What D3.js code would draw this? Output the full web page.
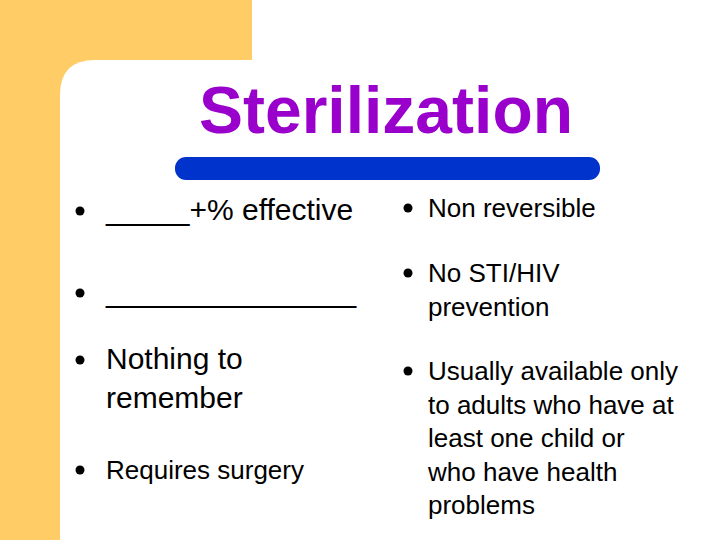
<!DOCTYPE html>
<html><head><meta charset="utf-8">
<script src="https://cdn.jsdelivr.net/npm/d3@7"></script>
<style>body{margin:0;background:#fff}</style></head>
<body><svg id="s" width="720" height="540"></svg>
<script>
const title = "Sterilization";
const leftItems = [
  {lines:["_____+% effective"], y:220, size:30},
  {lines:["_______________"], y:302, size:30},
  {lines:["Nothing to","remember"], y:369, size:30},
  {lines:["Requires surgery"], y:479, size:26}
];
const rightItems = [
  {lines:["Non reversible"], y:217, size:26},
  {lines:["No STI/HIV","prevention"], y:282, size:26},
  {lines:["Usually available only","to adults who have at","least one child or","who have health","problems"], y:380, size:26}
];
const svg = d3.select("#s");
const F = "Liberation Sans, Arial, sans-serif";
svg.append("rect").attr("x",0).attr("y",0).attr("width",252).attr("height",120).attr("fill","#FFCC66");
svg.append("rect").attr("x",0).attr("y",0).attr("width",60).attr("height",540).attr("fill","#FFCC66");
svg.append("path").attr("d","M60,540 L60,95 Q60,60 95,60 L720,60 L720,540 Z").attr("fill","#fff");
svg.append("rect").attr("x",175).attr("y",157).attr("width",425).attr("height",23).attr("rx",11).attr("fill","#0033CC");
svg.append("text").attr("x",386).attr("y",133).attr("text-anchor","middle").attr("font-family",F)
  .attr("font-weight","bold").attr("font-size",66).attr("fill","#9900CC").text(title);
function col(items, bx, tx){
  items.forEach(it=>{
    svg.append("circle").attr("cx",bx).attr("cy",it.y-9).attr("r",4.5).attr("fill","#000");
    const t = svg.append("text").attr("font-family",F).attr("font-size",it.size).attr("fill","#000");
    it.lines.forEach((l,i)=>t.append("tspan").attr("x",tx).attr("y",it.y+i*(it.size===30?39:33.5)).text(l));
  });
}
col(leftItems, 80, 106);
col(rightItems, 408, 428);
</script></body></html>
